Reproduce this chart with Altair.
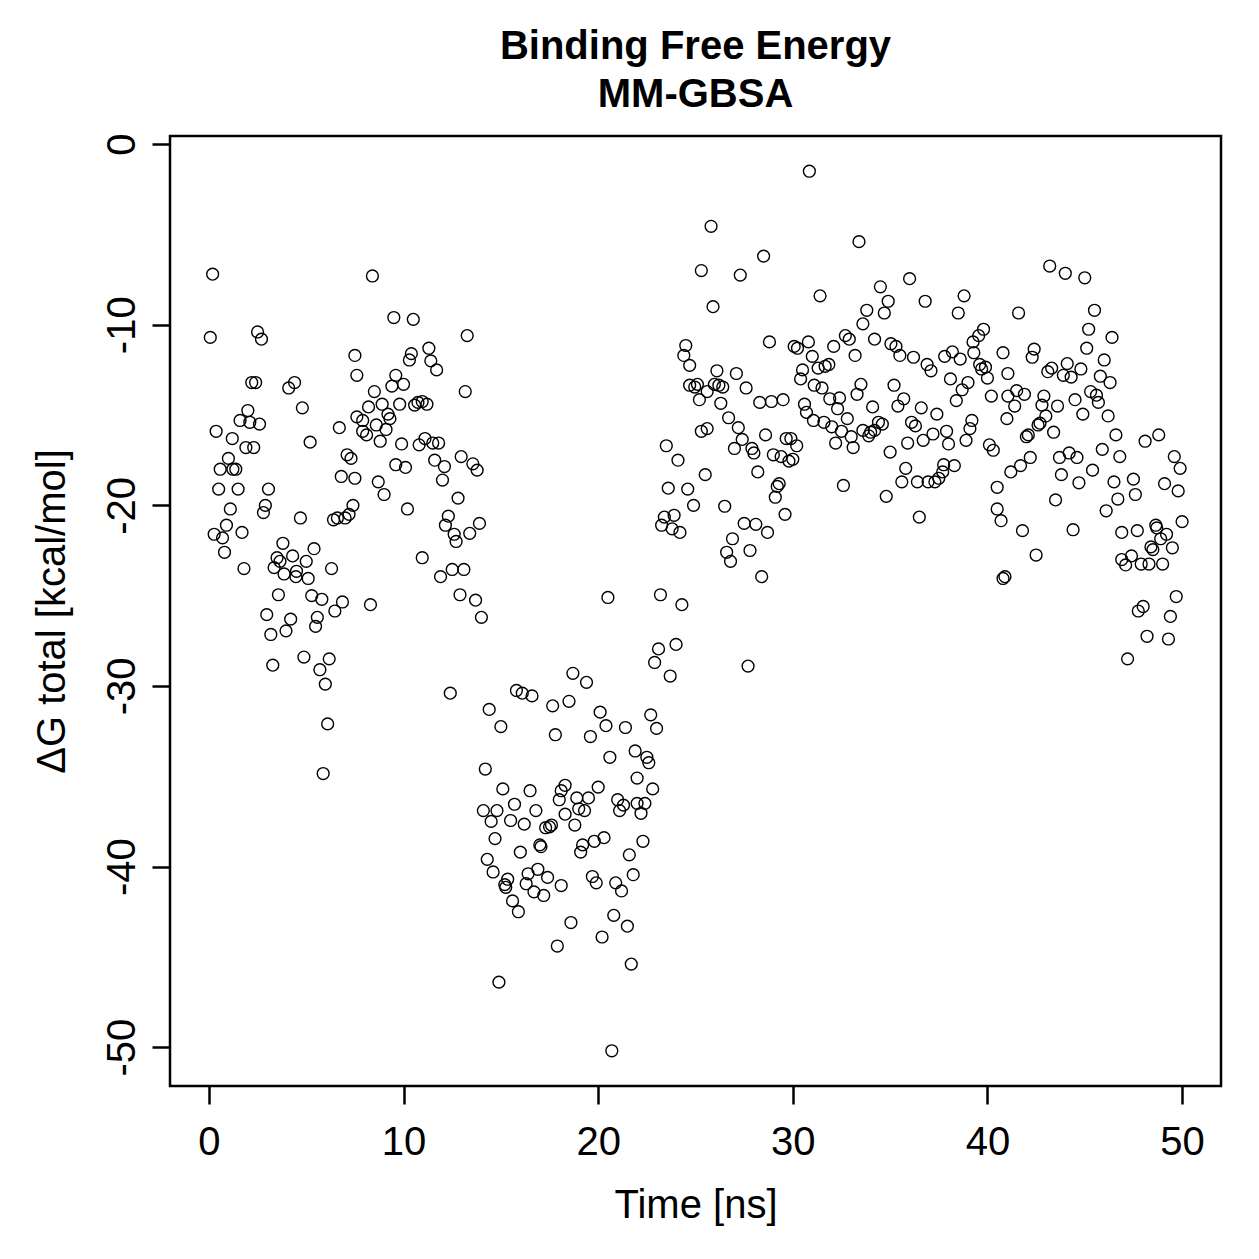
import altair as alt
import pandas as pd

# --- data (time in ns, dG total in kcal/mol) ---
t_a = [0.19,0.07,2.5,2.7,7.5,7.6,2.2,2.4,4.1,4.4,4.8,2.0,1.6,2.1,2.6,7.6,6.7,0.37,1.2,1.9,
       2.3,5.2,7.1,7.3,1.0,0.58,1.23,1.38,6.8,7.5,0.5,1.5,3.06,1.1,2.9,2.8,4.7,6.4,6.6,7.0,
       7.2,7.4,0.9,0.27,0.7,1.7,0.8,1.8,3.8,5.4,3.5,3.65,4.3,5.0,3.35,3.86,4.5,4.47,5.1,6.3,
       3.57,5.28,5.8,6.86,6.47,2.97,4.2,5.57,5.48,3.96,3.18,4.88,6.18,5.7,3.28,5.98,6.1,5.87]
dg_a = [-7.2,-10.7,-10.4,-10.8,-11.7,-12.8,-13.2,-13.2,-13.5,-13.2,-14.6,-14.75,-15.3,-15.4,-15.5,-15.1,-15.7,-15.9,-16.3,-16.8,
        -16.8,-16.5,-17.2,-17.4,-17.4,-18.0,-18.0,-18.0,-18.4,-18.5,-19.1,-19.1,-19.1,-20.2,-20.0,-20.4,-20.7,-20.8,-20.7,-20.7,
        -20.5,-20.0,-21.1,-21.6,-21.8,-21.5,-22.6,-23.5,-22.1,-22.4,-22.9,-23.1,-22.8,-23.1,-23.45,-23.8,-23.65,-23.95,-24.05,-23.5,
        -24.95,-25.0,-25.2,-25.35,-25.85,-26.05,-26.3,-26.2,-26.7,-26.95,-27.15,-28.4,-28.5,-29.1,-28.85,-29.9,-32.1,-34.85]

t_b = [8.4,9.5,10.5,13.27,10.4,10.3,11.3,11.4,11.7,9.6,9.4,10.0,13.17,8.5,8.2,8.9,9.8,10.57,10.74,10.96,
       11.2,7.9,8.6,9.2,9.3,9.1,7.9,8.1,8.8,9.9,10.8,11.1,11.5,11.8,9.6,10.1,11.6,12.1,12.96,13.56,
       13.78,8.7,12.0,9.0,12.8,10.2,12.3,12.15,12.6,12.7,13.4,13.9,10.96,11.9,12.5,13.1,12.9,13.7,14.0,8.3,
       12.4,14.4]
dg_b = [-7.3,-9.6,-9.7,-10.6,-11.6,-11.95,-11.3,-12.0,-12.5,-12.8,-13.4,-13.3,-13.7,-13.7,-14.55,-14.4,-14.4,-14.45,-14.3,-14.25,
        -14.4,-15.3,-15.55,-14.95,-15.2,-15.8,-15.9,-16.1,-16.45,-16.6,-16.65,-16.3,-16.55,-16.55,-17.75,-17.9,-17.5,-17.85,-17.3,-17.7,
        -18.05,-18.7,-18.6,-19.4,-19.6,-20.2,-20.6,-21.1,-21.6,-22.0,-21.55,-21.0,-22.9,-23.95,-23.55,-23.55,-24.95,-25.25,-26.2,-25.5,
        -30.4,-31.3]

t_c = [18.7,19.4,22.9,15.8,16.1,16.6,17.66,18.5,15.0,17.8,20.1,20.4,21.4,19.6,22.7,23.0,20.6,21.9,22.5,22.6,
       14.2,22.0,22.8,15.1,16.5,18.3,18.1,18.0,20.0,18.9,19.5,19.0,19.3,18.3,18.8,21.0,21.3,21.1,22.0,22.4,
       22.2,14.1,14.8,14.5,15.7,15.5,16.2,16.8,17.3,17.5,17.6,14.7,17.0,17.06,19.2,19.1,19.8,20.3,22.3,16.0,
       21.6,14.3,14.6,15.35,15.2,15.25,16.4,16.9,17.4,16.3,16.7,17.2,18.1,15.6,15.9,19.7,19.9,20.9,21.2,21.8,
       18.6,20.8,21.5,20.2,17.9,21.7,14.9,20.7]
dg_c = [-29.3,-29.8,-28.7,-30.25,-30.4,-30.55,-31.1,-30.85,-32.25,-32.7,-31.45,-32.2,-32.3,-32.8,-31.6,-32.35,-33.95,-33.6,-33.95,-34.25,
        -34.6,-35.1,-35.7,-35.7,-35.8,-35.5,-35.8,-36.3,-35.6,-36.2,-36.2,-36.8,-36.9,-37.1,-37.7,-36.3,-36.6,-36.9,-36.5,-36.5,
        -37.05,-36.9,-36.9,-37.5,-36.55,-37.45,-37.65,-36.9,-37.85,-37.8,-37.7,-38.45,-38.8,-38.9,-38.8,-39.2,-38.6,-38.4,-38.6,-39.2,
        -39.35,-39.6,-40.3,-40.7,-41.0,-41.15,-40.4,-40.15,-40.6,-40.95,-41.4,-41.6,-41.05,-41.9,-42.5,-40.55,-40.9,-40.9,-41.35,-40.45,
        -43.1,-42.7,-43.3,-43.9,-44.4,-45.4,-46.4,-50.2]

t_d = [25.3,25.6,23.5,24.1,25.5,23.6,24.6,24.9,23.4,23.9,23.26,23.8,24.2,20.5,23.2,24.3,24.0,23.1,23.7]
dg_d = [-15.9,-15.75,-16.7,-17.5,-18.3,-19.05,-19.1,-20.0,-20.65,-20.55,-21.1,-21.3,-21.5,-25.1,-24.95,-25.5,-27.7,-27.95,-29.45]

t_e = [30.85,25.8,28.5,25.3,27.3,31.4,25.9,24.5,24.4,24.7,28.8,30.07,30.24,30.8,31.0,31.3,31.66,30.5,30.4,26.1,
       27.1,24.7,24.96,25.1,25.97,26.2,26.4,25.6,25.2,27.6,31.1,31.5,26.3,28.3,28.9,29.5,30.6,30.7,31.06,31.6,
       26.7,27.2,27.4,28.6,29.66,29.9,30.2,27.0,27.9,28.0,29.0,29.4,29.8,30.0,28.2,29.3,29.2,29.1,26.5,29.6,
       27.5,28.1,28.7,26.9,26.6,26.8,27.8,28.4,27.7]
dg_e = [-1.5,-4.55,-6.2,-7.0,-7.25,-8.4,-9.0,-11.15,-11.7,-12.25,-10.95,-11.2,-11.3,-10.95,-11.75,-12.4,-12.3,-12.5,-13.0,-12.55,
        -12.7,-13.35,-13.45,-13.3,-13.3,-13.35,-13.45,-13.7,-14.15,-13.5,-13.35,-13.5,-14.35,-14.3,-14.25,-14.15,-14.4,-14.85,-15.3,-15.4,
        -15.15,-15.7,-16.35,-16.1,-16.3,-16.3,-16.7,-16.85,-16.85,-17.1,-17.2,-17.3,-17.55,-17.45,-18.15,-18.8,-18.95,-19.55,-20.05,-20.5,
        -21.0,-21.05,-21.5,-21.85,-22.6,-23.1,-22.5,-23.95,-28.9]

t_f = [33.4,36.0,34.5,34.9,34.7,33.8,33.6,36.8,38.8,38.5,32.7,32.9,34.2,32.1,35.04,35.3,35.5,36.2,33.2,36.9,
       37.1,37.8,38.2,38.6,39.26,39.55,39.8,39.3,40.8,39.6,39.7,39.9,40.0,41.05,33.5,33.3,35.2,38.1,39.0,38.7,
       38.4,40.2,41.05,31.9,32.4,32.3,34.1,35.7,35.4,36.6,37.4,32.0,32.5,32.8,33.0,33.1,32.2,33.6,33.9,34.0,
       34.2,34.4,34.6,36.1,36.3,37.2,37.9,38.0,35.9,36.7,38.9,39.1,39.2,40.1,40.3,41.0,35.0,35.8,35.6,36.4,
       36.95,37.3,37.5,37.7,37.75,38.3,32.6,34.8,40.5,41.2,40.5,36.5,31.85]
dg_f = [-5.4,-7.45,-7.9,-8.7,-9.35,-9.2,-9.95,-8.7,-8.4,-9.35,-10.6,-10.8,-10.8,-11.2,-11.05,-11.2,-11.7,-11.8,-11.7,-12.2,
        -12.55,-11.75,-11.5,-11.9,-10.95,-10.6,-10.25,-11.55,-11.55,-12.2,-12.45,-12.35,-12.95,-12.7,-13.3,-13.85,-13.35,-13.0,-13.2,-13.6,
        -14.2,-13.95,-13.95,-14.1,-14.05,-14.65,-14.55,-14.1,-14.5,-14.6,-14.95,-15.65,-15.9,-15.2,-16.2,-16.8,-16.55,-15.85,-16.15,-15.95,
        -15.85,-15.4,-15.5,-15.4,-15.6,-16.05,-15.9,-16.6,-16.55,-16.4,-16.4,-15.75,-15.3,-16.65,-16.95,-15.2,-17.05,-17.95,-18.7,-18.7,
        -18.7,-18.7,-18.5,-18.15,-17.75,-17.8,-18.9,-19.5,-19.0,-18.15,-20.2,-20.65,-12.2]

t_g = [43.2,44.0,45.0,41.6,45.5,45.2,45.1,46.4,46.0,42.4,42.3,43.3,43.1,44.1,44.8,43.9,44.3,45.8,46.3,41.5,
       41.9,41.4,42.9,42.8,43.0,43.6,44.5,44.9,45.3,45.6,45.7,46.2,42.6,42.7,42.0,42.1,43.4,46.6,48.1,48.8,
       45.9,46.8,43.7,44.2,44.6,42.2,41.7,49.6,49.9,43.8,45.4,44.7,46.5,47.5,47.6,46.7,46.1,49.1,49.8,43.5,
       40.7,41.8,44.4,42.5,40.8,40.9,46.9,47.7,48.65,48.7,49.2,48.9,50.0,48.4,48.5,49.5,46.9,47.1,47.4,47.9,
       48.3,49.0,49.7,47.75,48.0,49.4,48.2,49.3,47.2]
dg_g = [-6.75,-7.15,-7.4,-9.35,-9.2,-10.25,-11.3,-10.7,-11.95,-11.35,-11.8,-12.4,-12.6,-12.15,-12.45,-12.8,-12.9,-12.85,-13.2,-13.65,
        -13.85,-14.5,-13.95,-14.45,-15.05,-14.5,-14.15,-14.95,-13.7,-13.9,-14.3,-15.05,-15.55,-15.45,-16.2,-16.1,-15.95,-16.1,-16.45,-16.1,
        -16.9,-17.3,-17.35,-17.1,-17.35,-17.35,-17.8,-17.3,-17.95,-18.3,-18.05,-18.75,-18.7,-18.55,-19.4,-19.65,-20.3,-18.8,-19.2,-19.7,
        -20.85,-21.4,-21.35,-22.75,-24.05,-23.95,-21.5,-21.4,-21.1,-21.25,-21.6,-21.85,-20.9,-22.3,-22.45,-22.35,-23.0,-23.3,-22.8,-23.25,
        -23.25,-23.25,-25.05,-25.85,-25.6,-26.15,-27.25,-27.4,-28.5]

x_ticks = [0, 10, 20, 30, 40, 50]
y_ticks = [0, -10, -20, -30, -40, -50]
title_lines = ["Binding Free Energy", "MM-GBSA"]

times = t_a + t_b + t_c + t_d + t_e + t_f + t_g
dgs = dg_a + dg_b + dg_c + dg_d + dg_e + dg_f + dg_g
df = pd.DataFrame({"time": times, "dg": dgs})

FONT = "Liberation Sans"

x_axis = alt.Axis(
    values=x_ticks, title="Time [ns]", grid=False, domain=False,
    tickSize=18, tickWidth=2.5, tickColor="black",
    labelFont=FONT, labelFontSize=40, labelColor="black", labelPadding=18,
    labelFlush=False, labelOverlap=False, labelExpr="'' + datum.value",
    titleFont=FONT, titleFontSize=40, titleFontWeight="normal", titleColor="black",
    titleBaseline="alphabetic", titleY=131,
)
y_axis = alt.Axis(
    values=y_ticks, title="ΔG total [kcal/mol]", grid=False, domain=False,
    tickSize=18, tickWidth=2.5, tickColor="black",
    labelFont=FONT, labelFontSize=40, labelColor="black", labelPadding=10,
    labelAngle=270, labelAlign="center", labelBaseline="bottom",
    labelFlush=False, labelOverlap=False, labelExpr="'' + datum.value",
    titleFont=FONT, titleFontSize=40, titleFontWeight="normal", titleColor="black",
    titleAngle=270, titleAlign="center", titleBaseline="alphabetic",
    titleX=-106, titleY=475,
)

chart = (
    alt.Chart(df)
    .mark_point(shape="circle", filled=False, color="black", size=140,
                strokeWidth=1.4, opacity=1)
    .encode(
        x=alt.X("time:Q", scale=alt.Scale(domain=[-2, 52], nice=False, zero=False), axis=x_axis),
        y=alt.Y("dg:Q", scale=alt.Scale(domain=[-52.15, 0.45], nice=False, zero=False), axis=y_axis),
    )
    .properties(
        width=1051, height=950,
        background="white",
        autosize=alt.AutoSizeParams(type="none"),
        padding={"left": 170, "top": 136, "right": 38, "bottom": 173},
        title=alt.TitleParams(
            text=title_lines, font=FONT, fontSize=40, fontWeight="bold",
            color="black", anchor="middle", frame="group", offset=-22,
            lineHeight=48, baseline="bottom",
        ),
    )
    .configure_view(stroke="black", strokeWidth=2.5)
)

chart.save("out.html", embed_options={"renderer": "svg", "actions": False})
